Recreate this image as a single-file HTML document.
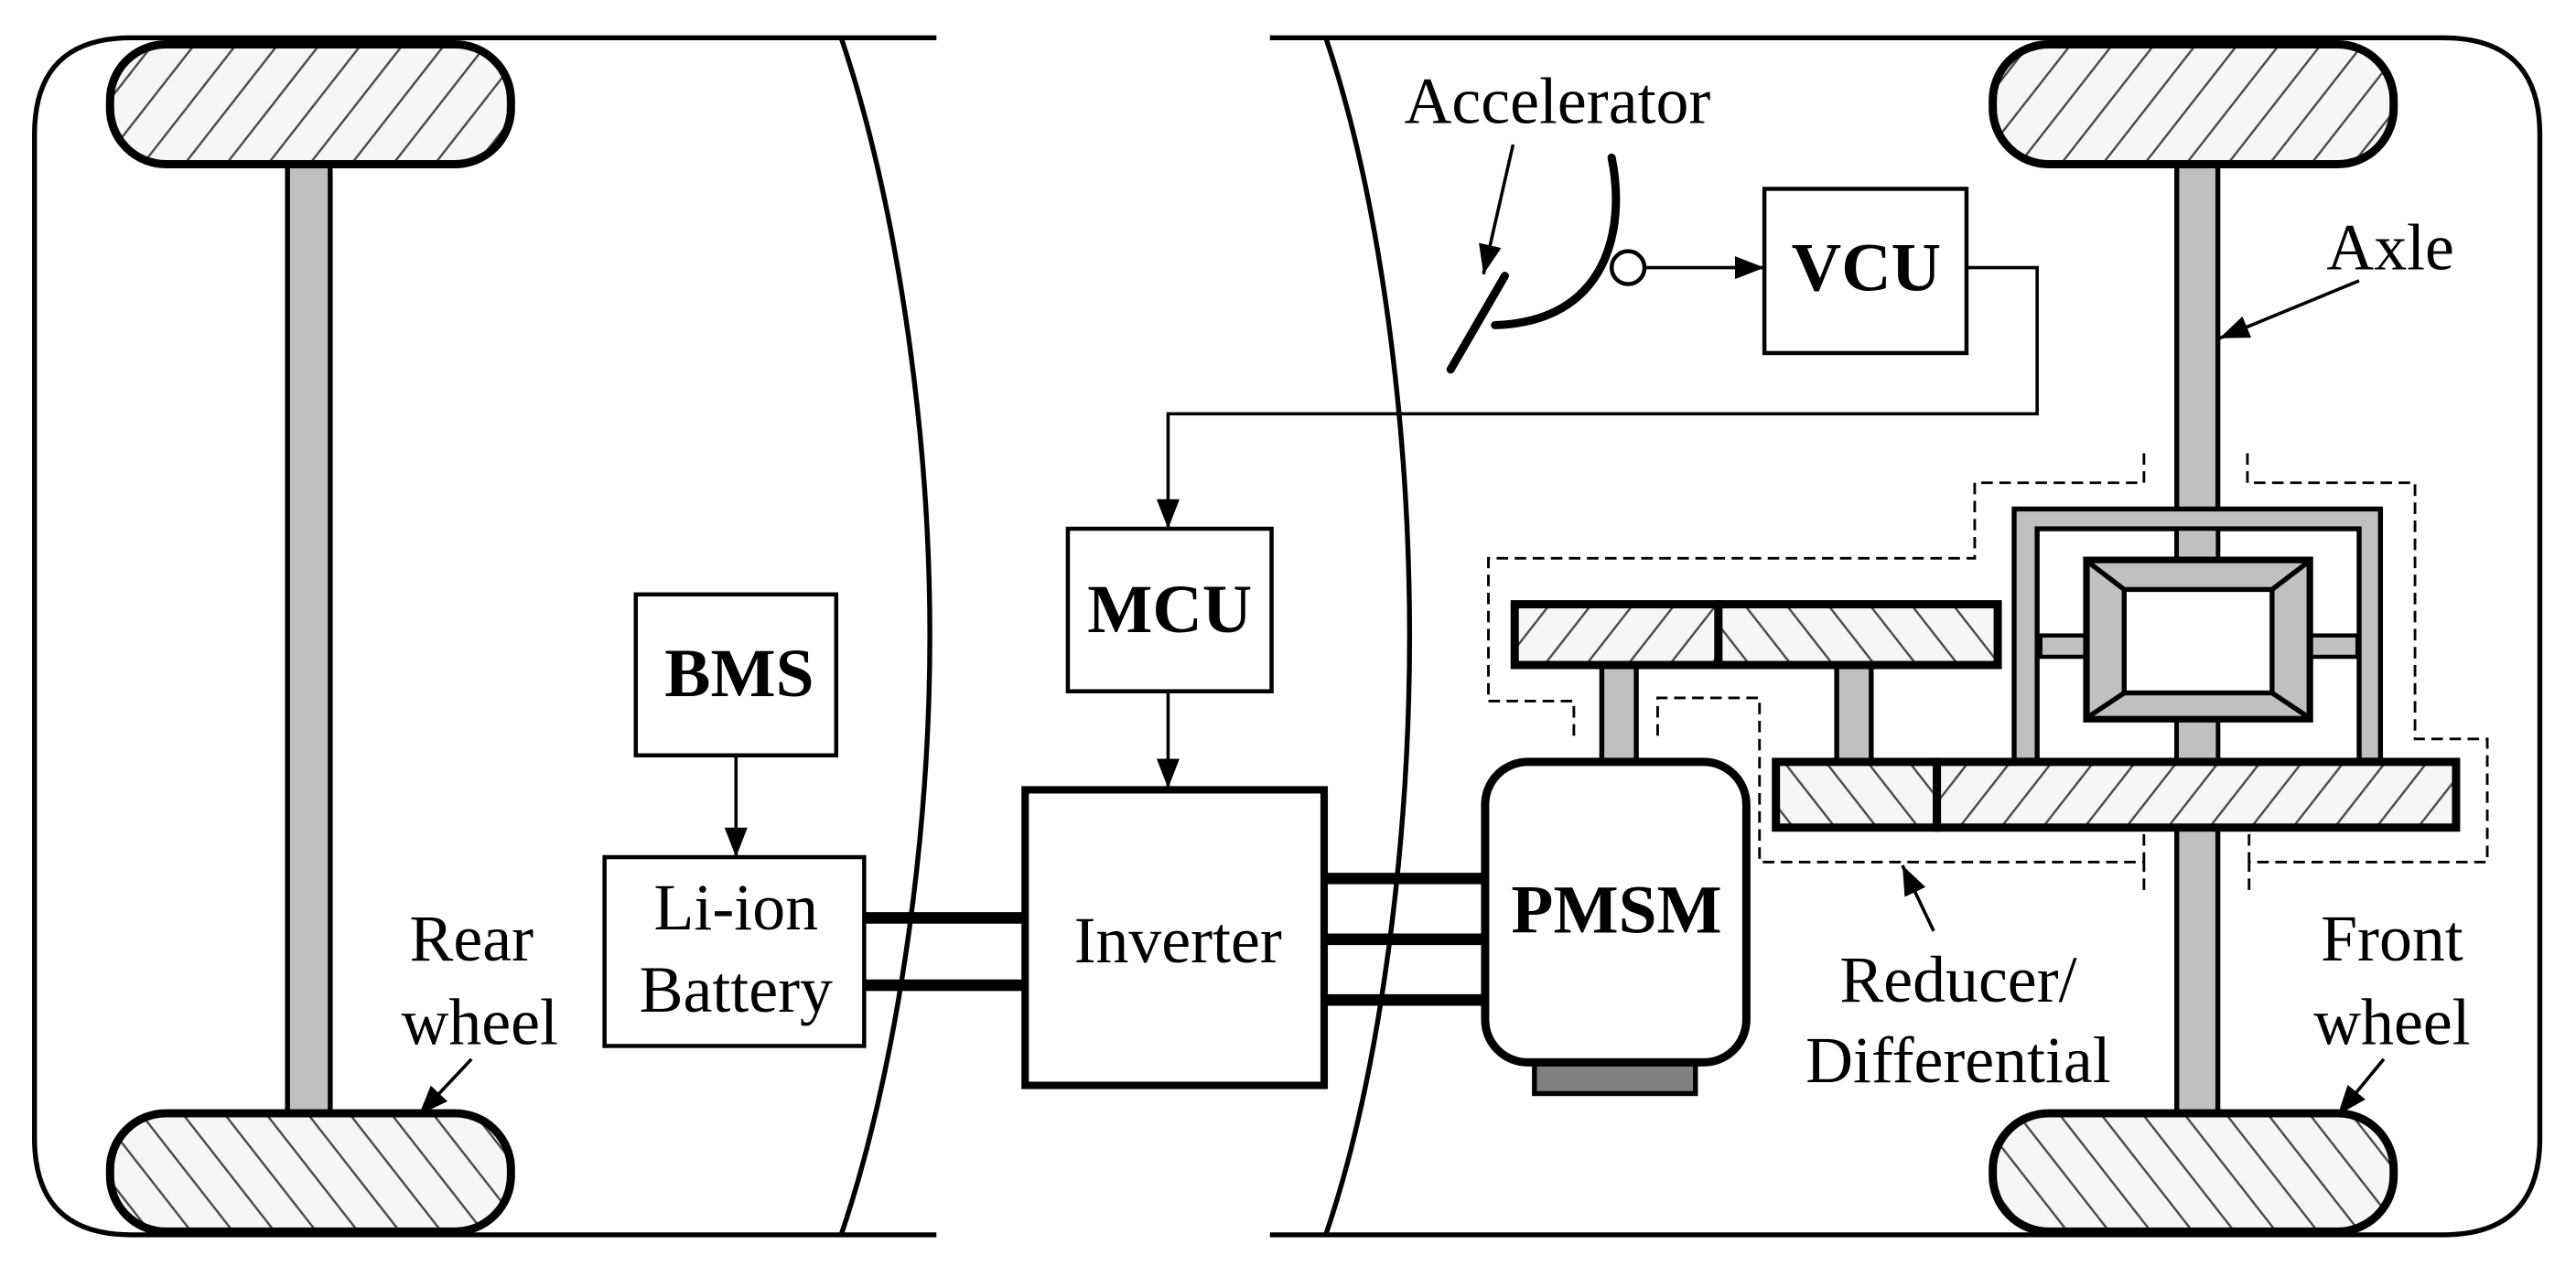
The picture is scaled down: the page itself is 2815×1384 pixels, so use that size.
<!DOCTYPE html>
<html><head><meta charset="utf-8"><style>html,body{margin:0;padding:0;background:#fff}svg{display:block}</style></head>
<body>
<svg width="2815" height="1384" viewBox="0 0 1568 771" preserveAspectRatio="none" xmlns="http://www.w3.org/2000/svg" font-family="'Liberation Serif', serif">
<defs>
<pattern id="hf" width="20" height="20" patternUnits="userSpaceOnUse" patternTransform="rotate(38)">
<rect width="20" height="20" fill="#f6f6f6"/><line x1="10" y1="0" x2="10" y2="20" stroke="#444" stroke-width="1.3"/></pattern>
<pattern id="hb" width="20" height="20" patternUnits="userSpaceOnUse" patternTransform="rotate(-38)">
<rect width="20" height="20" fill="#f6f6f6"/><line x1="10" y1="0" x2="10" y2="20" stroke="#444" stroke-width="1.3"/></pattern>
<marker id="ar" markerWidth="18" markerHeight="14" refX="18" refY="7" orient="auto" markerUnits="userSpaceOnUse">
<path d="M0,0 L18,7 L0,14 Z" fill="#000"/></marker>
</defs>
<rect width="1568" height="771" fill="#fff"/>

<path d="M570,23 H80 Q21,23 21,82 V693 Q21,752 80,752 H570" fill="none" stroke="#000" stroke-width="3"/>
<path d="M512,23 C545,120 566,260 566,387 C566,514 545,655 512,752" fill="none" stroke="#000" stroke-width="3"/>
<path d="M773,23 H1487 Q1546,23 1546,82 V693 Q1546,752 1487,752 H773" fill="none" stroke="#000" stroke-width="3"/>
<path d="M807,23 C840,120 858,260 858,387 C858,514 840,655 807,752" fill="none" stroke="#000" stroke-width="3"/>

<rect x="175" y="98" width="26" height="582" fill="#c0c0c0" stroke="#000" stroke-width="3"/>
<rect x="67" y="27" width="244" height="73" rx="34" fill="url(#hf)" stroke="#000" stroke-width="5"/>
<rect x="67" y="678" width="244" height="72" rx="34" fill="url(#hb)" stroke="#000" stroke-width="5"/>

<rect x="1325" y="98" width="25" height="582" fill="#c0c0c0" stroke="#000" stroke-width="3"/>
<rect x="1213" y="27" width="244" height="73" rx="34" fill="url(#hf)" stroke="#000" stroke-width="5"/>
<rect x="1213" y="678" width="244" height="72" rx="34" fill="url(#hb)" stroke="#000" stroke-width="5"/>

<text x="287" y="585" font-size="40" text-anchor="middle">Rear</text>
<text x="292" y="636" font-size="40" text-anchor="middle">wheel</text>
<line x1="287" y1="645" x2="255" y2="679" stroke="#000" stroke-width="2" marker-end="url(#ar)"/>

<rect x="387" y="362" width="122" height="98" fill="#fff" stroke="#000" stroke-width="2.5"/>
<text x="450" y="424" font-size="42" font-weight="bold" text-anchor="middle">BMS</text>
<line x1="448" y1="460" x2="448" y2="522" stroke="#000" stroke-width="2" marker-end="url(#ar)"/>
<rect x="368" y="522" width="158" height="115" fill="#fff" stroke="#000" stroke-width="2.5"/>
<text x="448" y="566" font-size="40" text-anchor="middle">Li-ion</text>
<text x="448" y="616" font-size="40" text-anchor="middle">Battery</text>
<line x1="526" y1="559" x2="622" y2="559" stroke="#000" stroke-width="7"/>
<line x1="526" y1="600" x2="622" y2="600" stroke="#000" stroke-width="7"/>

<rect x="624" y="481" width="182" height="180" fill="#fff" stroke="#000" stroke-width="4.5"/>
<text x="717" y="586" font-size="40" text-anchor="middle">Inverter</text>
<rect x="650" y="322" width="124" height="99" fill="#fff" stroke="#000" stroke-width="2.5"/>
<text x="712" y="385" font-size="42" font-weight="bold" text-anchor="middle">MCU</text>
<line x1="711" y1="421" x2="711" y2="480" stroke="#000" stroke-width="2" marker-end="url(#ar)"/>
<polyline points="1197,163 1240,163 1240,252 711,252 711,322" fill="none" stroke="#000" stroke-width="2" marker-end="url(#ar)"/>

<text x="948" y="75" font-size="40" text-anchor="middle">Accelerator</text>
<line x1="921" y1="88" x2="903" y2="167" stroke="#000" stroke-width="2" marker-end="url(#ar)"/>
<path d="M981,96 C990,140 978,196 910,198" fill="none" stroke="#000" stroke-width="5" stroke-linecap="round"/>
<line x1="883" y1="225" x2="916" y2="168" stroke="#000" stroke-width="5" stroke-linecap="round"/>
<circle cx="991" cy="163" r="10" fill="#fff" stroke="#000" stroke-width="2.5"/>
<line x1="1001" y1="163" x2="1074" y2="163" stroke="#000" stroke-width="2" marker-end="url(#ar)"/>
<rect x="1074" y="115" width="123" height="100" fill="#fff" stroke="#000" stroke-width="2.5"/>
<text x="1136" y="177" font-size="42" font-weight="bold" text-anchor="middle">VCU</text>

<text x="1455" y="164" font-size="40" text-anchor="middle">Axle</text>
<line x1="1436" y1="171" x2="1351" y2="206" stroke="#000" stroke-width="2" marker-end="url(#ar)"/>

<g fill="none" stroke="#000" stroke-width="1.6" stroke-dasharray="7,4">
<polyline points="1305,276 1305,294 1202,294 1202,340 906,340 906,427 958,427 958,450"/>
<polyline points="1368,276 1368,294 1470,294 1470,450 1514,450 1514,525 1369,525 1369,542"/>
<polyline points="1009,448 1009,425 1071,425 1071,525 1305,525 1305,542"/>
<line x1="1305" y1="508" x2="1305" y2="525"/>
<line x1="1369" y1="508" x2="1369" y2="525"/>
</g>

<path d="M1226,463 V310 H1449 V463 H1436 V322 H1240 V463 Z" fill="#c0c0c0" stroke="#000" stroke-width="3"/>
<rect x="1242" y="387" width="30" height="13" fill="#c0c0c0" stroke="#000" stroke-width="2.5"/>
<rect x="1403" y="387" width="32" height="13" fill="#c0c0c0" stroke="#000" stroke-width="2.5"/>
<rect x="1325" y="322" width="25" height="20" fill="#c0c0c0" stroke="#000" stroke-width="2.5"/>
<rect x="1325" y="438" width="25" height="25" fill="#c0c0c0" stroke="#000" stroke-width="2.5"/>
<rect x="1270" y="341" width="136" height="97" fill="#c0c0c0" stroke="#000" stroke-width="4"/>
<rect x="1293" y="359" width="90" height="63" fill="#fff" stroke="#000" stroke-width="3"/>
<g stroke="#000" stroke-width="3">
<line x1="1272" y1="343" x2="1293" y2="359"/><line x1="1404" y1="343" x2="1383" y2="359"/>
<line x1="1272" y1="436" x2="1293" y2="422"/><line x1="1404" y1="436" x2="1383" y2="422"/>
</g>

<rect x="975" y="404" width="21" height="60" fill="#c0c0c0" stroke="#000" stroke-width="3"/>
<rect x="1118" y="404" width="21" height="60" fill="#c0c0c0" stroke="#000" stroke-width="3"/>

<rect x="922" y="368" width="124" height="37" fill="url(#hf)" stroke="#000" stroke-width="5"/>
<rect x="1046" y="368" width="170" height="37" fill="url(#hb)" stroke="#000" stroke-width="5"/>
<rect x="1081" y="464" width="98" height="40" fill="url(#hb)" stroke="#000" stroke-width="5"/>
<rect x="1179" y="464" width="316" height="40" fill="url(#hf)" stroke="#000" stroke-width="5"/>

<rect x="934" y="648" width="98" height="18" fill="#808080" stroke="#000" stroke-width="3"/>
<rect x="904" y="464" width="159" height="183" rx="26" fill="#fff" stroke="#000" stroke-width="5"/>
<text x="984" y="568" font-size="42" font-weight="bold" text-anchor="middle">PMSM</text>
<line x1="806" y1="535" x2="904" y2="535" stroke="#000" stroke-width="7"/>
<line x1="806" y1="572" x2="904" y2="572" stroke="#000" stroke-width="7"/>
<line x1="806" y1="609" x2="904" y2="609" stroke="#000" stroke-width="7"/>

<line x1="1177" y1="567" x2="1158" y2="527" stroke="#000" stroke-width="2" marker-end="url(#ar)"/>
<text x="1192" y="610" font-size="40" text-anchor="middle">Reducer/</text>
<text x="1192" y="659" font-size="40" text-anchor="middle">Differential</text>

<text x="1456" y="585" font-size="40" text-anchor="middle">Front</text>
<text x="1456" y="636" font-size="40" text-anchor="middle">wheel</text>
<line x1="1451" y1="645" x2="1423" y2="679" stroke="#000" stroke-width="2" marker-end="url(#ar)"/>
</svg>
</body></html>
